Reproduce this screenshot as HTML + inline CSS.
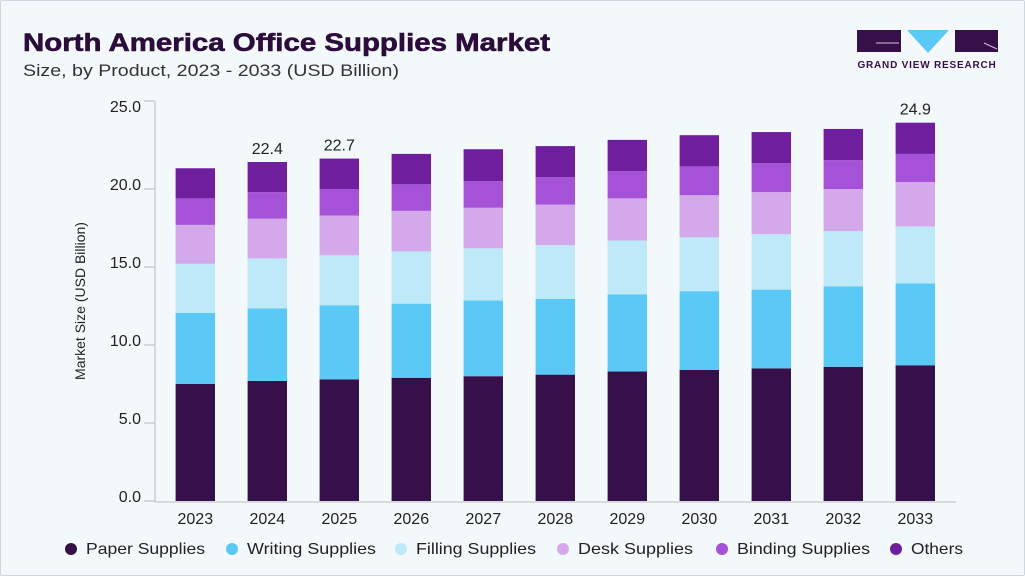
<!DOCTYPE html>
<html><head><meta charset="utf-8"><style>
body{margin:0;width:1025px;height:576px;overflow:hidden;background:#fff;font-family:"Liberation Sans",sans-serif}
#card{position:absolute;left:0;top:0;width:1023px;height:574px;border:1px solid #cfd8de;background:#f3f8fb;border-radius:2px}
</style></head><body>
<div id="card">
<svg id="svg" width="1025" height="576" style="position:absolute;left:0;top:0">
<text x="22" y="50" font-size="25" font-weight="bold" fill="#2b0c3a" textLength="527" lengthAdjust="spacingAndGlyphs" stroke="#2b0c3a" stroke-width="0.6">North America Office Supplies Market</text>
<text x="22" y="75" font-size="17" fill="#333" textLength="376" lengthAdjust="spacingAndGlyphs">Size, by Product, 2023 - 2033 (USD Billion)</text>
<g>
<rect x="856" y="29" width="44" height="22" fill="#37104a"/>
<polygon points="906,29 948,29 927,52" fill="#5bc9f5"/>
<rect x="954" y="29" width="43" height="22" fill="#37104a"/>
<line x1="875" y1="42" x2="898" y2="42" stroke="#cfc0db" stroke-width="1"/>
<line x1="983" y1="42" x2="996" y2="48" stroke="#cfc0db" stroke-width="1"/>
<text x="926" y="67" font-size="10" font-weight="bold" fill="#37104a" text-anchor="middle" letter-spacing="0.8">GRAND VIEW RESEARCH</text>
</g>
<text transform="translate(84,300) rotate(-90)" font-size="14" fill="#222" text-anchor="middle">Market Size (USD Billion)</text>
<g id="plot"></g>
</svg>
</div>
<script>
const years=["2023","2024","2025","2026","2027","2028","2029","2030","2031","2032","2033"];
const paper=[7.5,7.7,7.8,7.9,8.0,8.1,8.3,8.4,8.5,8.6,8.7];
const writing=[4.55,4.65,4.75,4.75,4.85,4.85,4.95,5.05,5.05,5.15,5.25];
const filling=[3.15,3.2,3.2,3.35,3.35,3.45,3.45,3.45,3.55,3.55,3.65];
const desk=[2.5,2.55,2.55,2.6,2.6,2.6,2.7,2.7,2.7,2.7,2.85];
const binding=[1.7,1.7,1.7,1.7,1.7,1.75,1.75,1.85,1.85,1.85,1.8];
const others=[1.93,1.93,1.95,1.95,2.05,2.0,2.0,2.0,2.0,2.0,2.0];
const seriesNames=["Paper Supplies","Writing Supplies","Filling Supplies","Desk Supplies","Binding Supplies","Others"];
const yTicks=[0,5,10,15,20,25];
const totalLabels={"2024":"22.4","2025":"22.7","2033":"24.9"};
const series=[paper,writing,filling,desk,binding,others];
const colors=["#37104a","#5bc9f5","#bde9f8","#d4a9ec","#a551d8","#6f1f9e"];
const NS="http://www.w3.org/2000/svg";
const g=document.getElementById('plot');
function y(v){return 500-v*15.6;}
function x(i){return 194.3+i*72;}
function mk(t,a){const e=document.createElementNS(NS,t);for(const k in a)e.setAttribute(k,a[k]);g.appendChild(e);return e;}
let ax=mk('line',{x1:154,y1:100,x2:154,y2:501,stroke:'#bbb'});


let bx=mk('line',{x1:154,y1:501,x2:955,y2:501,stroke:'#bbb'});


yTicks.forEach(t=>{
  const ty=t===25?100:y(t);
  mk('line',{x1:143,y1:ty,x2:154,y2:ty,stroke:'#bbb'});
  const l=mk('text',{x:140,y:(t===25?106:y(t)-4)+5,'font-size':16,fill:'#222','text-anchor':'end'});
  l.textContent=t.toFixed(1);
  
  
});
years.forEach((yr,i)=>{
  let cum=0;
  series.forEach((s,k)=>{
    const r=mk('rect',{x:x(i)-19.7,y:y(cum+s[i]),width:39.4,height:s[i]*15.6,fill:colors[k]});
    
    
    cum+=s[i];
  });
  const t=mk('text',{x:x(i),y:523,'font-size':16,fill:'#222','text-anchor':'middle'});
  t.textContent=yr;
  
  
  if(totalLabels[yr]){
    const v=mk('text',{x:x(i),y:y(cum)-8,'font-size':16,fill:'#222','text-anchor':'middle'});
    v.textContent=totalLabels[yr];
    
    
  }
});
const lx=[70,231,400,562,721,895];
const lw=[119,129,120,115,133,52];
seriesNames.forEach((n,k)=>{
  const c=mk('circle',{cx:lx[k],cy:548,r:6,fill:colors[k]});
  
  
  const t=mk('text',{x:lx[k]+15,y:553,'font-size':16,fill:'#222',textLength:lw[k],lengthAdjust:'spacingAndGlyphs'});
  t.textContent=n;
  
  
});
</script>
</body></html>
